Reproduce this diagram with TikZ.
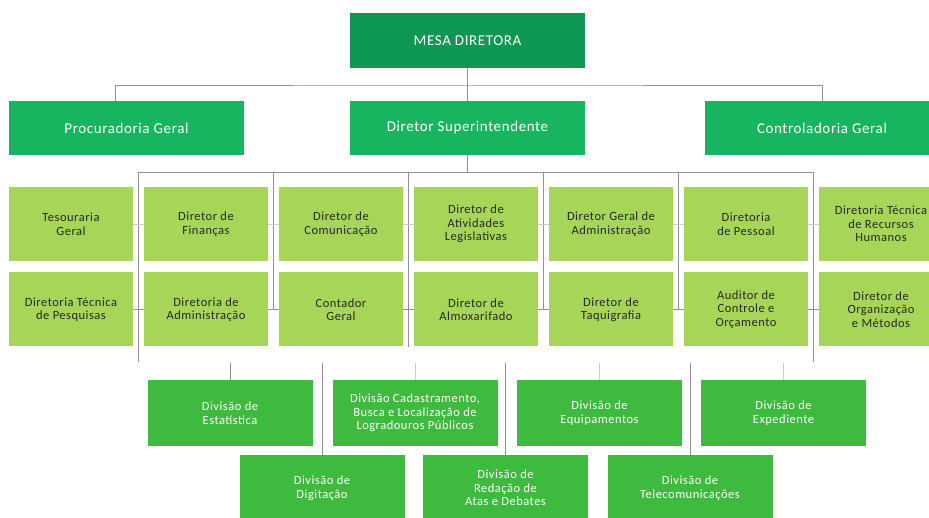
\documentclass[tikz,border=0pt]{standalone}
\usepackage{fontspec}
\setmainfont{Carlito}[LetterSpace=4]
\usepackage{xcolor}
\usetikzlibrary{positioning, calc}

\definecolor{mesagreen}{RGB}{14,152,84}
\definecolor{headgreen}{RGB}{24,181,96}
\definecolor{cellgreen}{RGB}{166,213,88}
\definecolor{divgreen}{RGB}{62,186,62}
\definecolor{celltext}{RGB}{40,40,40}
\definecolor{linkgray}{RGB}{150,140,165}
\definecolor{faintgray}{RGB}{205,200,215}

\begin{document}
\begin{tikzpicture}[x=1pt, y=-1pt,
  topbox/.style={fill=mesagreen, text=white, minimum width=235pt, minimum height=55pt,
    inner sep=0pt, font=\fontsize{15}{17}\selectfont},
  headbox/.style={topbox, fill=headgreen, minimum height=54pt},
  cellbox/.style={fill=cellgreen, text=celltext, minimum width=124pt, minimum height=74pt,
    inner sep=0pt, align=center, font=\fontsize{12.5}{13.5}\selectfont},
  divbox/.style={fill=divgreen, text=white, minimum width=165pt, minimum height=66pt,
    inner sep=0pt, align=center, font=\fontsize{12.5}{13.5}\selectfont},
  link/.style={draw=linkgray, line width=0.9pt},
  faintlink/.style={draw=faintgray, line width=0.9pt}]
\useasboundingbox (0,0) rectangle (929,518);

% top levels
\node[topbox] (mesa) at (467.5,40.5) {MESA DIRETORA};
\node[headbox] (proc) at (126.5,128) {Procuradoria Geral};
\node[headbox] (dirsup) at (467.5,128) {Diretor Superintendente};
\node[headbox] (contr) at (822,128) {Controladoria Geral};

\coordinate (bus) at (467.5,85);
\draw[link] (mesa) -- (dirsup);
\draw[link] ([xshift=-11.5pt]proc.north) |- (bus) -| (contr.north);

% directors, two rows
\node[cellbox] (tes) at (71,224) {Tesouraria\\Geral};
\node[cellbox] (fin) at (206,224) {Diretor de\\Finanças};
\node[cellbox] (com) at (341,224) {Diretor de\\Comunicação};
\node[cellbox] (leg) at (476,224) {Diretor de\\Atividades\\Legislativas};
\node[cellbox] (adm) at (611,224) {Diretor Geral de\\Administração};
\node[cellbox] (pes) at (746,224) {Diretoria\\de Pessoal};
\node[cellbox] (rh) at (881,224) {Diretoria Técnica\\de Recursos\\Humanos};

\node[cellbox] (pesq) at (71,309.5) {Diretoria Técnica\\de Pesquisas};
\node[cellbox] (dadm) at (206,309.5) {Diretoria de\\Administração};
\node[cellbox] (cont) at (341,309.5) {Contador\\Geral};
\node[cellbox] (alm) at (476,309.5) {Diretor de\\Almoxarifado};
\node[cellbox] (taq) at (611,309.5) {Diretor de\\Taquigrafia};
\node[cellbox] (aud) at (746,309.5) {Auditor de\\Controle e\\Orçamento};
\node[cellbox] (org) at (881,309.5) {Diretor de\\Organização\\e Métodos};

\coordinate (sub) at (467.5,172);
\coordinate (s1) at (138.5,172);
\coordinate (s2) at (273.5,172);
\coordinate (s3) at (408.5,172);
\coordinate (s4) at (543.5,172);
\coordinate (s5) at (678.5,172);
\coordinate (s6) at (813.5,172);
\coordinate (e1) at (138.5,362);
\coordinate (e6) at (813.5,362);

\draw[link] (dirsup) -- (sub);
\draw[link] (s1) -- (s6);
\draw[link] (s1) -- (e1);
\draw[link] (s2) -- (s2 |- dadm);
\draw[link] (s3) -- (s3 |- alm.south);
\draw[link] (s4) -- (s4 |- taq);
\draw[link] (s5) -- (s5 |- aud);
\draw[link] (s6) -- (e6);

\draw[faintlink] (tes) -- (fin);
\draw[faintlink] (fin) -- (com);
\draw[faintlink] (com) -- (leg);
\draw[faintlink] (leg) -- (adm);
\draw[faintlink] (adm) -- (pes);
\draw[faintlink] (pes) -- (rh);
\draw[link] (pesq) -- (dadm);
\draw[link] (dadm) -- (cont);
\draw[link] (cont) -- (alm);
\draw[link] (alm) -- (taq);
\draw[link] (taq) -- (aud);
\draw[link] (aud) -- (org);

% divisions
\node[divbox] (estat) at (230,413) {Divisão de\\Estatística};
\node[divbox] (cadast) at (415,413) {Divisão Cadastramento,\\Busca e Localização de\\Logradouros Públicos};
\node[divbox] (equip) at (599.5,413) {Divisão de\\Equipamentos};
\node[divbox] (exped) at (783.5,413) {Divisão de\\Expediente};
\node[divbox] (digit) at (322,488) {Divisão de\\Digitação};
\node[divbox] (redac) at (505.5,488) {Divisão de\\Redação de\\Atas e Debates};
\node[divbox] (telec) at (690,488) {Divisão de\\Telecomunicações};

\coordinate (destat) at (230,363);
\coordinate (dcadast) at (415,363);
\coordinate (dequip) at (599.5,363);
\coordinate (dexped) at (783.5,363);
\coordinate (ddigit) at (322,363);
\coordinate (dredac) at (505.5,363);
\coordinate (dtelec) at (690,363);

\draw[link] (destat) -- (estat);
\draw[faintlink] (dcadast) -- (cadast);
\draw[faintlink] (dequip) -- (equip);
\draw[faintlink] (dexped) -- (exped);
\draw[link] (ddigit) -- (digit);
\draw[link] (dredac) -- (redac);
\draw[link] (dtelec) -- (telec);
\end{tikzpicture}
\end{document}
